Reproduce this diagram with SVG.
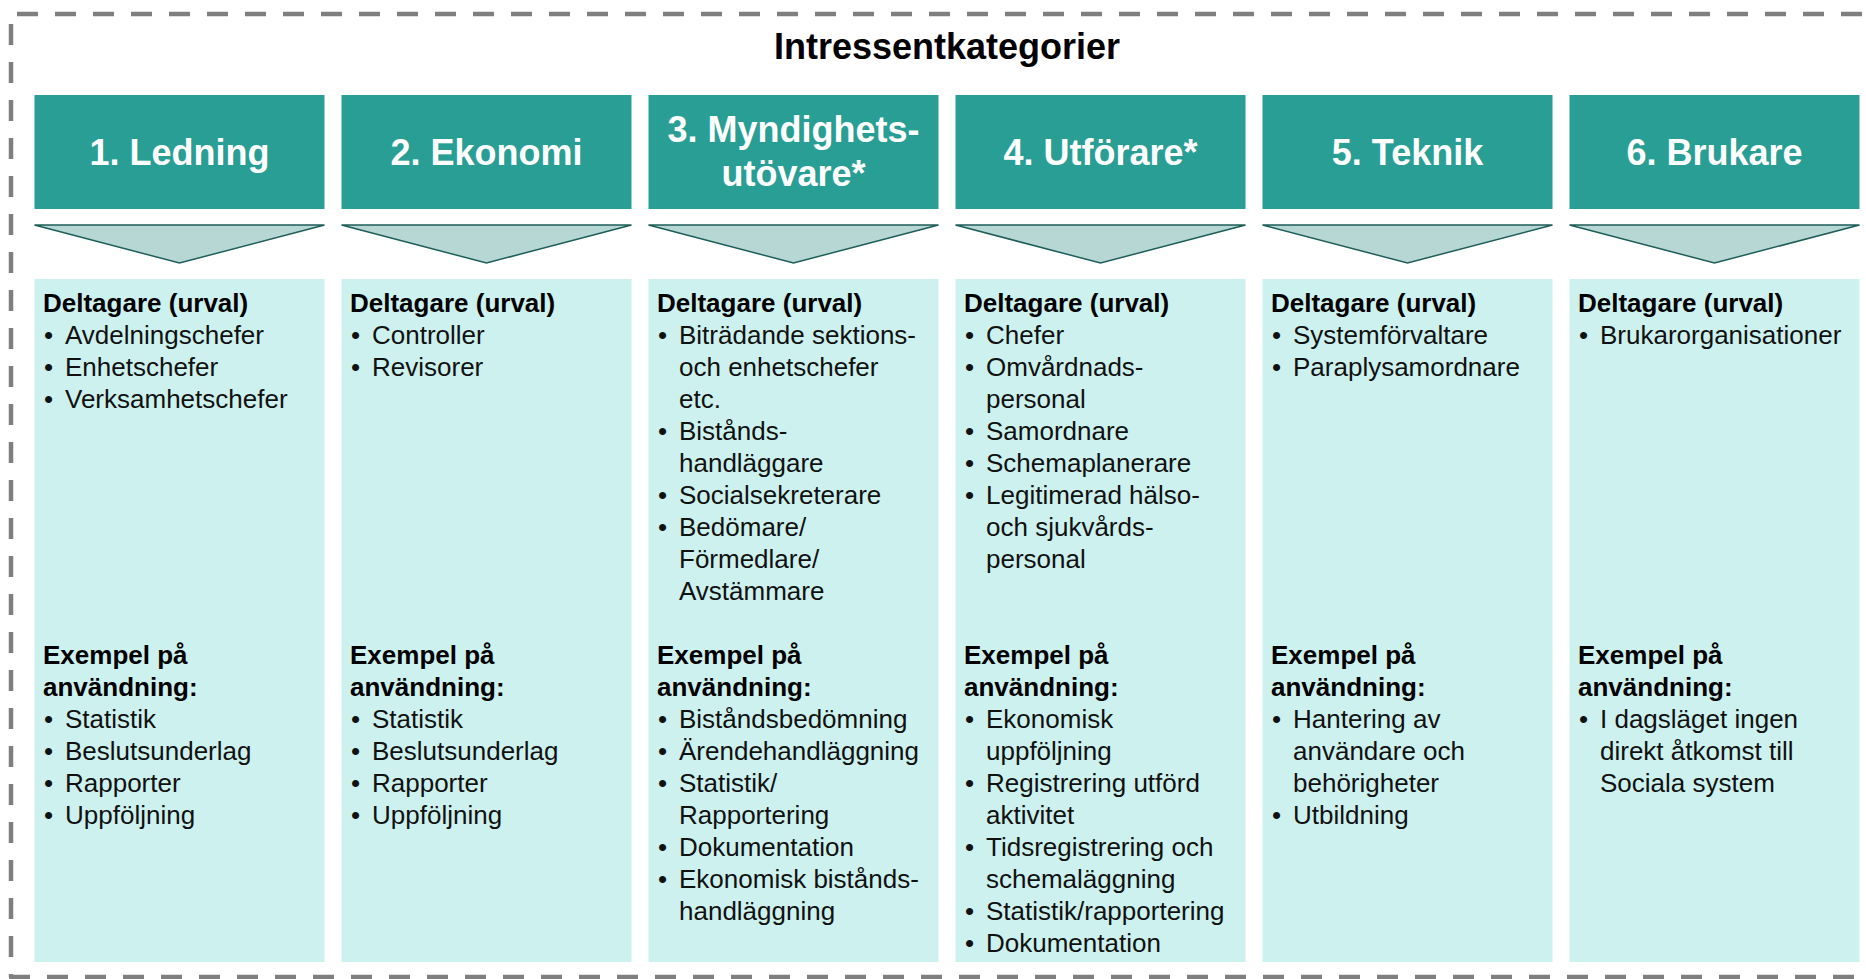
<svg xmlns="http://www.w3.org/2000/svg" width="1866" height="979" viewBox="0 0 1866 979">
<style>
.frame{fill:none;stroke:#7f7f7f;stroke-width:4.5;stroke-dasharray:21 17}
.hdr{fill:#299e94}
.body{fill:#cdf1ee}
.chev{fill:#b6d7d4;stroke:#1d5e58;stroke-width:1.5;stroke-linejoin:miter}
.title{font-family:"Liberation Sans",Arial,sans-serif;font-weight:bold;font-size:36px;fill:#000;text-anchor:middle}
.ht{font-family:"Liberation Sans",Arial,sans-serif;font-weight:bold;font-size:36px;fill:#fff;text-anchor:middle}
.b{font-family:"Liberation Sans",Arial,sans-serif;font-weight:bold;font-size:26px;fill:#000}
.t{font-family:"Liberation Sans",Arial,sans-serif;font-size:26px;fill:#111}
</style>
<rect x="0" y="0" width="1866" height="979" fill="#fff"/>
<g id="frame">
<path class="frame" d="M11,14 H1870" stroke-dashoffset="-6"/>
<path class="frame" d="M11,24 V977"/>
<path class="frame" d="M9,977 H1870"/>
</g>
<text id="title" class="title" x="947" y="59">Intressentkategorier</text>
<g id="connectors">
<polygon class="chev" points="34.5,225 324.5,225 179.5,263"/>
<polygon class="chev" points="341.5,225 631.5,225 486.5,263"/>
<polygon class="chev" points="648.5,225 938.5,225 793.5,263"/>
<polygon class="chev" points="955.5,225 1245.5,225 1100.5,263"/>
<polygon class="chev" points="1262.5,225 1552.5,225 1407.5,263"/>
<polygon class="chev" points="1569.5,225 1859.5,225 1714.5,263"/>
</g>
<g id="col1">
<rect class="hdr" x="34.5" y="95" width="290" height="114"/>
<text class="ht" x="179.5" y="165">1. Ledning</text>
<rect class="body" x="34.5" y="279" width="290" height="683"/>
<text class="b" x="43" y="312">Deltagare (urval)</text>
<text class="t" x="44" y="344">•</text><text class="t" x="65" y="344">Avdelningschefer</text>
<text class="t" x="44" y="376">•</text><text class="t" x="65" y="376">Enhetschefer</text>
<text class="t" x="44" y="408">•</text><text class="t" x="65" y="408">Verksamhetschefer</text>
<text class="b" x="43" y="664">Exempel på</text>
<text class="b" x="43" y="696">användning:</text>
<text class="t" x="44" y="728">•</text><text class="t" x="65" y="728">Statistik</text>
<text class="t" x="44" y="760">•</text><text class="t" x="65" y="760">Beslutsunderlag</text>
<text class="t" x="44" y="792">•</text><text class="t" x="65" y="792">Rapporter</text>
<text class="t" x="44" y="824">•</text><text class="t" x="65" y="824">Uppföljning</text>
</g>
<g id="col2" transform="translate(307,0)">
<rect class="hdr" x="34.5" y="95" width="290" height="114"/>
<text class="ht" x="179.5" y="165">2. Ekonomi</text>
<rect class="body" x="34.5" y="279" width="290" height="683"/>
<text class="b" x="43" y="312">Deltagare (urval)</text>
<text class="t" x="44" y="344">•</text><text class="t" x="65" y="344">Controller</text>
<text class="t" x="44" y="376">•</text><text class="t" x="65" y="376">Revisorer</text>
<text class="b" x="43" y="664">Exempel på</text>
<text class="b" x="43" y="696">användning:</text>
<text class="t" x="44" y="728">•</text><text class="t" x="65" y="728">Statistik</text>
<text class="t" x="44" y="760">•</text><text class="t" x="65" y="760">Beslutsunderlag</text>
<text class="t" x="44" y="792">•</text><text class="t" x="65" y="792">Rapporter</text>
<text class="t" x="44" y="824">•</text><text class="t" x="65" y="824">Uppföljning</text>
</g>
<g id="col3" transform="translate(614,0)">
<rect class="hdr" x="34.5" y="95" width="290" height="114"/>
<text class="ht" x="179.5" y="142">3. Myndighets-</text>
<text class="ht" x="179.5" y="186">utövare*</text>
<rect class="body" x="34.5" y="279" width="290" height="683"/>
<text class="b" x="43" y="312">Deltagare (urval)</text>
<text class="t" x="44" y="344">•</text><text class="t" x="65" y="344">Biträdande sektions-</text>
<text class="t" x="65" y="376">och enhetschefer</text>
<text class="t" x="65" y="408">etc.</text>
<text class="t" x="44" y="440">•</text><text class="t" x="65" y="440">Bistånds-</text>
<text class="t" x="65" y="472">handläggare</text>
<text class="t" x="44" y="504">•</text><text class="t" x="65" y="504">Socialsekreterare</text>
<text class="t" x="44" y="536">•</text><text class="t" x="65" y="536">Bedömare/</text>
<text class="t" x="65" y="568">Förmedlare/</text>
<text class="t" x="65" y="600">Avstämmare</text>
<text class="b" x="43" y="664">Exempel på</text>
<text class="b" x="43" y="696">användning:</text>
<text class="t" x="44" y="728">•</text><text class="t" x="65" y="728">Biståndsbedömning</text>
<text class="t" x="44" y="760">•</text><text class="t" x="65" y="760">Ärendehandläggning</text>
<text class="t" x="44" y="792">•</text><text class="t" x="65" y="792">Statistik/</text>
<text class="t" x="65" y="824">Rapportering</text>
<text class="t" x="44" y="856">•</text><text class="t" x="65" y="856">Dokumentation</text>
<text class="t" x="44" y="888">•</text><text class="t" x="65" y="888">Ekonomisk bistånds-</text>
<text class="t" x="65" y="920">handläggning</text>
</g>
<g id="col4" transform="translate(921,0)">
<rect class="hdr" x="34.5" y="95" width="290" height="114"/>
<text class="ht" x="179.5" y="165">4. Utförare*</text>
<rect class="body" x="34.5" y="279" width="290" height="683"/>
<text class="b" x="43" y="312">Deltagare (urval)</text>
<text class="t" x="44" y="344">•</text><text class="t" x="65" y="344">Chefer</text>
<text class="t" x="44" y="376">•</text><text class="t" x="65" y="376">Omvårdnads-</text>
<text class="t" x="65" y="408">personal</text>
<text class="t" x="44" y="440">•</text><text class="t" x="65" y="440">Samordnare</text>
<text class="t" x="44" y="472">•</text><text class="t" x="65" y="472">Schemaplanerare</text>
<text class="t" x="44" y="504">•</text><text class="t" x="65" y="504">Legitimerad hälso-</text>
<text class="t" x="65" y="536">och sjukvårds-</text>
<text class="t" x="65" y="568">personal</text>
<text class="b" x="43" y="664">Exempel på</text>
<text class="b" x="43" y="696">användning:</text>
<text class="t" x="44" y="728">•</text><text class="t" x="65" y="728">Ekonomisk</text>
<text class="t" x="65" y="760">uppföljning</text>
<text class="t" x="44" y="792">•</text><text class="t" x="65" y="792">Registrering utförd</text>
<text class="t" x="65" y="824">aktivitet</text>
<text class="t" x="44" y="856">•</text><text class="t" x="65" y="856">Tidsregistrering och</text>
<text class="t" x="65" y="888">schemaläggning</text>
<text class="t" x="44" y="920">•</text><text class="t" x="65" y="920">Statistik/rapportering</text>
<text class="t" x="44" y="952">•</text><text class="t" x="65" y="952">Dokumentation</text>
</g>
<g id="col5" transform="translate(1228,0)">
<rect class="hdr" x="34.5" y="95" width="290" height="114"/>
<text class="ht" x="179.5" y="165">5. Teknik</text>
<rect class="body" x="34.5" y="279" width="290" height="683"/>
<text class="b" x="43" y="312">Deltagare (urval)</text>
<text class="t" x="44" y="344">•</text><text class="t" x="65" y="344">Systemförvaltare</text>
<text class="t" x="44" y="376">•</text><text class="t" x="65" y="376">Paraplysamordnare</text>
<text class="b" x="43" y="664">Exempel på</text>
<text class="b" x="43" y="696">användning:</text>
<text class="t" x="44" y="728">•</text><text class="t" x="65" y="728">Hantering av</text>
<text class="t" x="65" y="760">användare och</text>
<text class="t" x="65" y="792">behörigheter</text>
<text class="t" x="44" y="824">•</text><text class="t" x="65" y="824">Utbildning</text>
</g>
<g id="col6" transform="translate(1535,0)">
<rect class="hdr" x="34.5" y="95" width="290" height="114"/>
<text class="ht" x="179.5" y="165">6. Brukare</text>
<rect class="body" x="34.5" y="279" width="290" height="683"/>
<text class="b" x="43" y="312">Deltagare (urval)</text>
<text class="t" x="44" y="344">•</text><text class="t" x="65" y="344">Brukarorganisationer</text>
<text class="b" x="43" y="664">Exempel på</text>
<text class="b" x="43" y="696">användning:</text>
<text class="t" x="44" y="728">•</text><text class="t" x="65" y="728">I dagsläget ingen</text>
<text class="t" x="65" y="760">direkt åtkomst till</text>
<text class="t" x="65" y="792">Sociala system</text>
</g>
</svg>
